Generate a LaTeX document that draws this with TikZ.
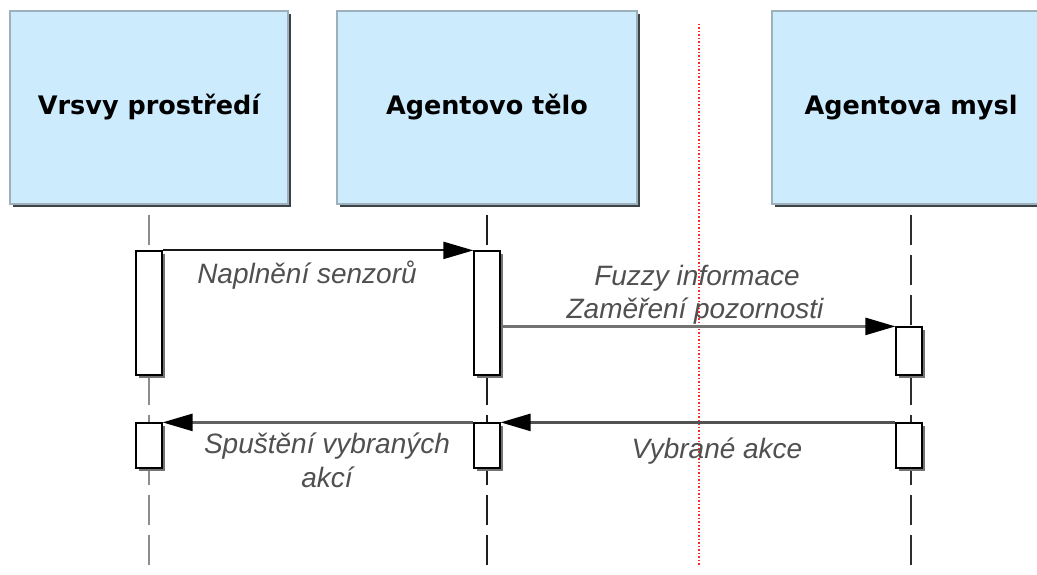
\documentclass[tikz,border=0pt]{standalone}
\usepackage{fontspec}
\setmainfont{Liberation Sans}
\newfontfamily\titlefont{DejaVu Sans}
\usetikzlibrary{arrows.meta,shadows}
\definecolor{hdrfill}{HTML}{CCEBFC}
\definecolor{hdrdraw}{HTML}{9DB0BC}
\definecolor{hdrshadow}{HTML}{3C4448}
\definecolor{lblgray}{HTML}{505050}
\begin{document}
\begin{tikzpicture}[x=1pt,y=-1pt,
  header/.style={draw=hdrdraw, line width=1.5pt, fill=hdrfill, minimum height=193pt, inner sep=0pt,
    font=\titlefont\bfseries\fontsize{25.5}{30}\selectfont,
    drop shadow={shadow xshift=3pt, shadow yshift=-3.5pt, fill=hdrshadow, opacity=1}},
  act/.style={draw=black, line width=1.2pt, fill=white, minimum width=26pt, inner sep=0pt,
    drop shadow={shadow xshift=2.5pt, shadow yshift=-2.5pt, fill=black!55, opacity=1}},
  lifeline/.style={line width=2.8pt, dash pattern=on 30pt off 10pt, dash phase=-7pt},
  msg/.style={line width=2.5pt, -{Triangle[length=30pt, width=17pt, color=black]}},
  lbl/.style={font=\itshape\fontsize{28}{32}\selectfont, text=lblgray, inner sep=0pt, anchor=base},
  guide/.style={draw=red!85, dotted, line width=1.5pt}
]
\useasboundingbox (0,0) rectangle (1037,575);
\clip (0,0) rectangle (1037,575);
\fill[white] (0,0) rectangle (1037,575);

% headers
\node[header, minimum width=278pt] (h1) at (149,107.5) {Vrsvy prostředí};
\node[header, minimum width=300pt] (h2) at (487,107.5) {Agentovo tělo};
\node[header, minimum width=278pt] (h3) at (911,107.5) {Agentova mysl};

% lifeline ends
\coordinate (e1) at (149,580);
\coordinate (e2) at (487,580);
\coordinate (e3) at (911,580);
\draw[lifeline, draw=black!45] ([yshift=-3pt]h1.south) -- (e1);
\draw[lifeline, draw=black!88] ([yshift=-3pt]h2.south) -- (e2);
\draw[lifeline, draw=black!82] ([yshift=-3pt]h3.south) -- (e3);

% red dotted guide
\coordinate (r1) at (699,24);
\coordinate (r2) at (699,565);
\draw[guide] (r1) -- (r2);

% activation boxes
\node[act, minimum height=124pt] (a1) at (149,313) {};
\node[act, minimum height=124pt] (b1) at (487,313) {};
\node[act, minimum height=48pt] (c1) at (909,351) {};
\node[act, minimum height=45pt] (a2) at (149,445.5) {};
\node[act, minimum height=45pt] (b2) at (487,445.5) {};
\node[act, minimum height=45pt] (c2) at (909,445.5) {};

% messages
\draw[msg, draw=black!90, line width=2pt] (a1.north east) -- (b1.north west);
\draw[msg, draw=black!55] (b1.east |- c1.north) -- (c1.north west);
\draw[msg, draw=black!68] (c2.north west) -- (b2.north east);
\draw[msg, draw=black!62] (b2.north west) -- (a2.north east);

% labels
\node[lbl] (l1) at (307,283) {Naplnění senzorů};
\node[lbl] (l2) at (697,285) {Fuzzy informace};
\node[lbl] (l3) at (695,318) {Zaměření pozornosti};
\node[lbl] (l4) at (717,458) {Vybrané akce};
\node[lbl] (l5) at (327,453) {Spuštění vybraných};
\node[lbl] (l6) at (327,487) {akcí};
\end{tikzpicture}
\end{document}
